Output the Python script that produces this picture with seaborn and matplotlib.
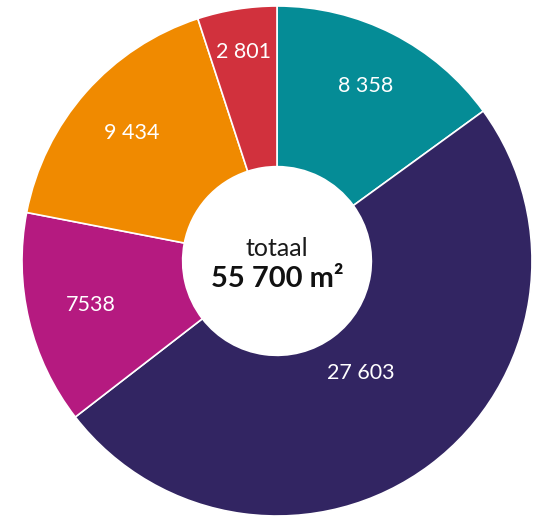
import numpy as np
import matplotlib.pyplot as plt
import seaborn as sns

# Floor area per category (m2), clockwise from the top
values = [8358, 27603, 7538, 9434, 2801]
labels = ['8 358', '27 603', '7538', '9 434', '2 801']
colors = ['#058c96', '#322562', '#b51a80', '#f08a00', '#d1313d']
total_label = '55 700 m²'

# radial position of each value label (fraction of outer radius)
label_r = [0.77, 0.55, 0.75, 0.76, 0.83]

sns.set_theme(style='white')
plt.rcParams['font.family'] = ['Lato', 'DejaVu Sans']

fig = plt.figure(figsize=(5.41, 5.16), dpi=100)
ax = fig.add_axes([0, 0, 1, 1])

wedges, _ = ax.pie(values, colors=colors, startangle=90, counterclock=False,
                   radius=1.0, wedgeprops=dict(width=0.63, edgecolor='white', linewidth=1.2))

for w, lab, r in zip(wedges, labels, label_r):
    ang = np.deg2rad((w.theta1 + w.theta2) / 2)
    ax.text(r * np.cos(ang), r * np.sin(ang), lab, ha='center', va='center',
            color='white', fontsize=15.5)

ax.text(0, 0.05, 'totaal', ha='center', va='center', fontsize=18, color='#1a1a1a')
ax.text(0, -0.07, total_label, ha='center', va='center', fontsize=21, fontweight='bold', color='#111111')

# center of donut at (277, 261) px, radius 255 px
ax.set_aspect('auto')
ax.set_xlim(-277 / 255, (541 - 277) / 255)
ax.set_ylim(-(516 - 261) / 255, 261 / 255)
ax.axis('off')

fig.savefig('out.png', dpi=100)
